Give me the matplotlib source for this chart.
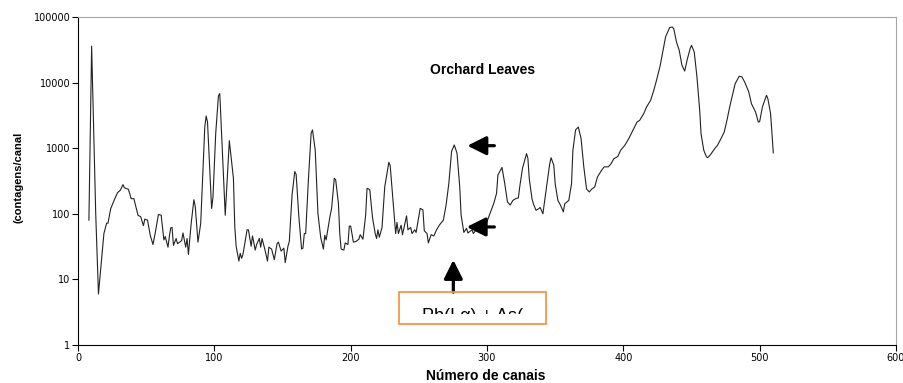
import matplotlib
matplotlib.use("Agg")
import matplotlib.pyplot as plt
from matplotlib.patches import Rectangle
from matplotlib.ticker import FixedLocator, FixedFormatter

# spectrum (channel, counts per channel)
channels = [
    8, 10, 13, 15, 17, 19, 21, 22, 24, 27, 29, 31, 33, 34, 37, 39, 41, 44, 46, 48,
    49, 51, 53, 55, 57, 59, 61, 63, 64, 66, 67, 68, 69, 70, 72, 73, 76, 77, 79, 80,
    81, 83, 85, 86, 88, 90, 93, 94, 95, 98, 99, 101, 103, 104, 108, 111, 114, 115, 116, 118,
    119, 120, 121, 124, 125, 127, 128, 130, 131, 133, 134, 135, 137, 139, 140, 142, 144, 146, 147, 149,
    151, 152, 154, 155, 157, 159, 160, 162, 164, 165, 166, 167, 169, 171, 172, 174, 176, 178, 180, 181,
    182, 185, 186, 188, 189, 191, 192, 193, 195, 196, 198, 199, 200, 202, 204, 206, 207, 209, 211, 212,
    214, 216, 218, 219, 220, 221, 223, 225, 228, 229, 231, 233, 234, 235, 237, 238, 239, 241, 242, 244,
    245, 247, 248, 251, 253, 254, 256, 257, 259, 261, 263, 265, 268, 270, 272, 274, 276, 278, 280, 281,
    283, 285, 286, 289, 290, 292, 295, 297, 300, 305, 307, 308, 311, 313, 315, 317, 319, 321, 323, 324,
    326, 329, 330, 331, 333, 334, 336, 338, 339, 341, 342, 344, 346, 347, 349, 350, 352, 354, 356, 357,
    360, 362, 363, 365, 367, 369, 371, 373, 375, 377, 379, 381, 384, 386, 389, 391, 393, 396, 398, 401,
    404, 407, 410, 412, 415, 417, 420, 422, 424, 427, 429, 431, 434, 436, 437, 439, 441, 443, 445, 447,
    449, 450, 452, 454, 456, 457, 459, 461, 462, 464, 467, 469, 471, 474, 476, 478, 480, 482, 485, 487,
    489, 492, 494, 497, 499, 500, 502, 505, 506, 508, 509, 510,
]
counts = [
    80, 36000, 100, 6, 17, 50, 72, 72, 120, 170, 210, 228, 278, 250, 236, 170, 170, 95, 90, 66,
    83, 80, 47, 34, 56, 98, 95, 40, 45, 31, 45, 61, 62, 33, 42, 35, 39, 51, 31, 42,
    24, 71, 164, 130, 37, 71, 2100, 3100, 2500, 120, 180, 1660, 6300, 6800, 95, 1300, 347, 63, 32, 19,
    25, 21, 24, 57, 57, 32, 46, 28, 34, 42, 31, 42, 29, 19, 31, 29, 20, 35, 37, 27,
    30, 18, 32, 38, 193, 440, 400, 90, 29, 30, 50, 50, 330, 1700, 1900, 940, 101, 44, 29, 47,
    40, 96, 120, 347, 330, 145, 50, 29, 28, 36, 34, 65, 65, 37, 38, 41, 48, 41, 96, 244,
    235, 88, 50, 42, 57, 44, 62, 258, 610, 540, 162, 50, 74, 50, 67, 48, 60, 93, 57, 62,
    50, 57, 52, 121, 115, 55, 50, 36, 48, 46, 57, 67, 80, 136, 290, 890, 1120, 840, 258, 96,
    52, 60, 51, 57, 50, 57, 52, 62, 76, 145, 204, 390, 510, 290, 152, 136, 160, 170, 175, 256,
    490, 826, 700, 343, 170, 142, 113, 120, 125, 100, 142, 287, 580, 716, 550, 287, 160, 134, 107, 142,
    160, 287, 930, 1910, 2100, 1400, 520, 240, 215, 240, 256, 364, 460, 520, 520, 580, 690, 750, 930, 1100,
    1400, 1870, 2500, 2660, 3370, 4240, 5350, 7200, 10200, 18000, 30000, 50000, 69000, 70400, 66000, 41500, 31000, 18300, 15000, 23000,
    33000, 37000, 29400, 12200, 3800, 1660, 930, 735, 720, 800, 985, 1100, 1320, 1760, 2660, 4240, 6400, 9600, 12500, 12200,
    10200, 7200, 4750, 3550, 2500, 2550, 4240, 6400, 5700, 3370, 1660, 850,
]

x_ticks = [0, 100, 200, 300, 400, 500, 600]
y_ticks = [1, 10, 100, 1000, 10000, 100000]
y_tick_labels = ["1", "10", "100", "1000", "10000", "100000"]

# arrows pointing at the Pb/As peak: (tip, tail) in data units
arrows = [
    ((285.6, 1092), (305.4, 1092)),
    ((285.1, 63), (305.4, 63)),
    ((275.3, 19.8), (275.3, 6.4)),
]

plt.rcParams["font.family"] = ["Liberation Sans", "DejaVu Sans"]

fig = plt.figure(figsize=(9.04, 3.83), dpi=100)
ax = fig.add_axes([78 / 904, 38 / 383, 818 / 904, 328 / 383])

ax.plot(channels, counts, color="#222222", lw=0.8)
ax.set_yscale("log")
ax.set_xlim(0, 600)
ax.set_ylim(1, 100000)

ax.xaxis.set_major_locator(FixedLocator(x_ticks))
ax.yaxis.set_major_locator(FixedLocator(y_ticks))
ax.yaxis.set_major_formatter(FixedFormatter(y_tick_labels))
ax.yaxis.set_minor_locator(FixedLocator([]))
ax.tick_params(direction="out", length=4, width=0.8, pad=1.5, labelsize=7)
for lab in ax.get_xticklabels() + ax.get_yticklabels():
    lab.set_family("DejaVu Sans")

for side in ("top", "right"):
    ax.spines[side].set_color("#a6a6a6")
    ax.spines[side].set_linewidth(0.8)
for side in ("left", "bottom"):
    ax.spines[side].set_color("black")
    ax.spines[side].set_linewidth(0.8)

ax.text(0.495, 0.838, "Orchard Leaves", transform=ax.transAxes,
        ha="center", va="center", fontsize=10, fontweight="bold")

for tip, tail in arrows:
    ax.annotate("", xy=tip, xytext=tail,
                arrowprops=dict(arrowstyle="-|>,head_width=0.3,head_length=0.6",
                                mutation_scale=19, lw=2.3, color="black",
                                shrinkA=0, shrinkB=0))

# label box, text is cut off by the box like in the original
box = Rectangle((399.5 / 904, 58.7 / 383), 147 / 904, 32.6 / 383,
                transform=fig.transFigure, fill=False,
                edgecolor="#f79646", lw=1.3)
fig.patches.append(box)
clip = Rectangle((400 / 904, 69 / 383), 123 / 904, 22 / 383,
                 transform=fig.transFigure, fill=False, visible=False)
t = fig.text(421.7 / 904, 61.7 / 383, "Pb(Lα) + As(Kα)", fontsize=13,
             ha="left", va="baseline", color="black")
t.set_clip_path(clip)

fig.text(19 / 904, 206 / 383, "(contagens/canal", rotation=90,
         ha="center", va="center", fontsize=8, fontweight="bold")
fig.text(486 / 904, 7 / 383, "Número de canais",
         ha="center", va="center", fontsize=10, fontweight="bold")

fig.savefig("out.png", dpi=100)
